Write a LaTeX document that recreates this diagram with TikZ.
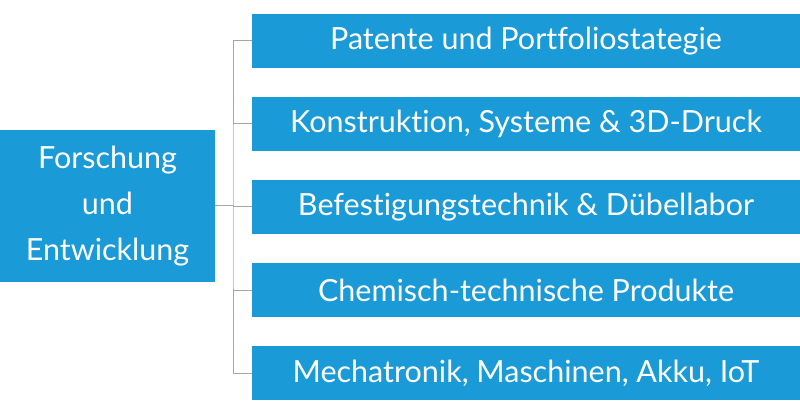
\documentclass[tikz,border=0pt]{standalone}
\usepackage{fontspec}
\setmainfont{Lato}[Ligatures={NoCommon,NoRare}]
\definecolor{fblue}{HTML}{1A9AD6}
\begin{document}
\begin{tikzpicture}[x=1pt,y=-1pt,
  box/.style={fill=fblue,text=white,inner sep=0pt,font=\fontsize{30.5}{46}\selectfont,align=center},
  conn/.style={draw=gray!70,line width=1pt}]
\useasboundingbox (0,0) rectangle (800,414);
\node[box,minimum width=215,minimum height=152] (L) at (107.5,206) {Forschung\\und\\Entwicklung};
\foreach \i/\y/\t in {1/41/Patente und Portfoliostategie,2/124/{Konstruktion, Systeme \& 3D-Druck},3/207/Befestigungstechnik \& Dübellabor,4/290/Chemisch-technische Produkte,5/373/{Mechatronik, Maschinen, Akku, IoT}}{
  \node[box,minimum width=548,minimum height=54] (r\i) at (526,\y) {\t};
}
\coordinate (j) at (233,206);
\draw[conn] (L.east) -- (j);
\draw[conn] (r1.west) -| (j) |- (r5.west);
\foreach \i in {2,3,4}{\draw[conn] (r\i.west) -- (j |- r\i.west);}
\end{tikzpicture}
\end{document}
